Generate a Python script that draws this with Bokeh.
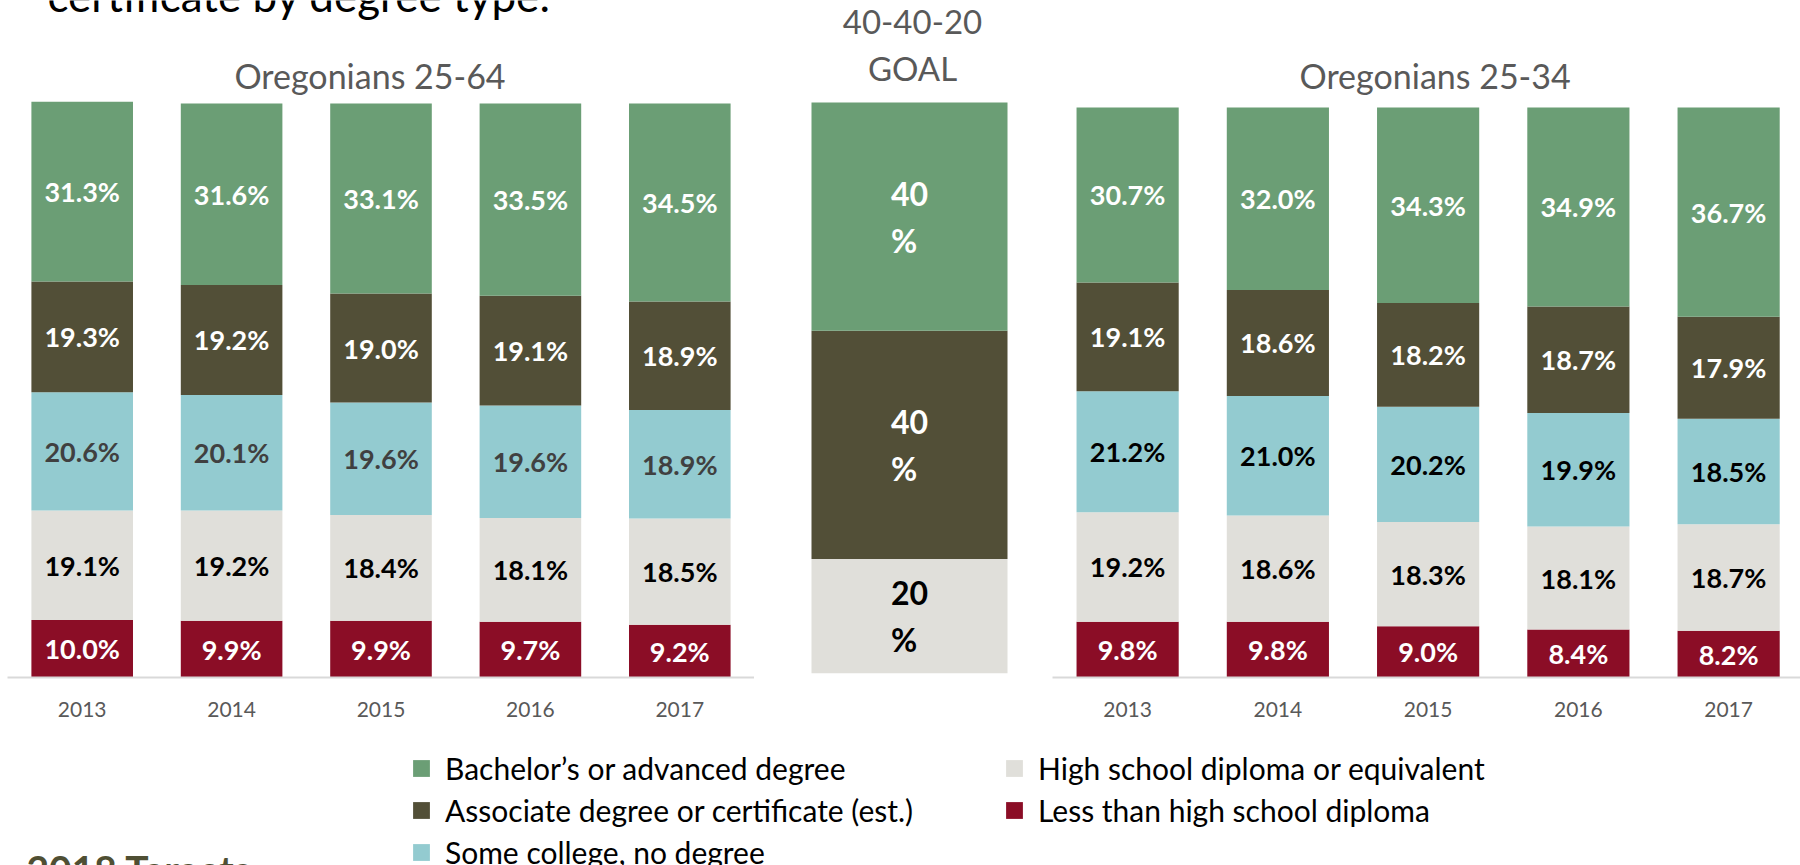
from bokeh.plotting import figure
from bokeh.models import (ColumnDataSource, LabelSet, Label, Range1d, FixedTicker,
                          Legend, LegendItem)
from bokeh.layouts import column, row
from bokeh.core.properties import value
from bokeh.embed import file_html
from bokeh.resources import INLINE

# ---------------- data ----------------
years = ["2013", "2014", "2015", "2016", "2017"]
categories = [
    "Bachelor’s or advanced degree",
    "Associate degree or certificate (est.)",
    "Some college, no degree",
    "High school diploma or equivalent",
    "Less than high school diploma",
]
colors = ["#6b9e75", "#524f37", "#93cbd0", "#e0dfda", "#8b0d26"]

age25_64_bachelor = [31.3, 31.6, 33.1, 33.5, 34.5]
age25_64_associate = [19.3, 19.2, 19.0, 19.1, 18.9]
age25_64_some_college = [20.6, 20.1, 19.6, 19.6, 18.9]
age25_64_high_school = [19.1, 19.2, 18.4, 18.1, 18.5]
age25_64_less_than_hs = [10.0, 9.9, 9.9, 9.7, 9.2]

age25_34_bachelor = [30.7, 32.0, 34.3, 34.9, 36.7]
age25_34_associate = [19.1, 18.6, 18.2, 18.7, 17.9]
age25_34_some_college = [21.2, 21.0, 20.2, 19.9, 18.5]
age25_34_high_school = [19.2, 18.6, 18.3, 18.1, 18.7]
age25_34_less_than_hs = [9.8, 9.8, 9.0, 8.4, 8.2]

goal_bachelor = [40]
goal_associate = [40]
goal_some_college = [0]
goal_high_school = [20]
goal_less_than_hs = [0]

left_title = "Oregonians 25-64"
right_title = "Oregonians 25-34"
goal_title = "40-40-20\nGOAL"
header_text = "certificate by degree type:"
footer_text = "2018 Targets"

# ---------------- styling / layout ----------------
FONT = "Lato"
KEYS = ["bach", "assoc", "some", "hs", "less"]
TOP_H = 740
BOT_BORDER = 63
FRAME_H = TOP_H - BOT_BORDER
BOTTOM_H = 125
TITLE_GREY = "#595959"

LEFT_PAD = 7
LEFT_W, MID_W, RIGHT_W = 754, 298, 748
LEFT_PX_PER_PCT = 5.74
RIGHT_PX_PER_PCT = 5.70
MID_PX_PER_PCT = 5.707
MID_LIFT_PX = 4.3
RIGHT_BAND_PX = 150.25


def make_data(lists):
    data = {"x": list(range(len(lists[0])))}
    for k, v in zip(KEYS, lists):
        data[k] = list(v)
    return data


def base_fig(width, x_range, y_range, show_x=True, left_border=0):
    p = figure(width=width, height=TOP_H, x_range=x_range, y_range=y_range,
               output_backend="svg", toolbar_location=None, tools="",
               min_border_left=left_border, min_border_right=0, min_border_top=0,
               min_border_bottom=BOT_BORDER,
               x_axis_location="below" if show_x else None, y_axis_location=None)
    p.outline_line_color = None
    p.grid.visible = False
    p.background_fill_color = "white"
    p.border_fill_color = "white"
    return p


def style_xaxis(p, labels):
    ax = p.xaxis[0]
    ax.ticker = FixedTicker(ticks=list(range(len(labels))))
    ax.major_label_overrides = {i: lab for i, lab in enumerate(labels)}
    ax.major_tick_line_color = None
    ax.minor_tick_line_color = None
    ax.axis_line_color = "#d9d9d9"
    ax.axis_line_width = 2
    ax.major_label_text_font = FONT
    ax.major_label_text_font_size = "21px"
    ax.major_label_text_color = TITLE_GREY
    ax.major_label_standoff = 18


def add_stack(p, data, width):
    p.vbar_stack(stackers=list(reversed(KEYS)), x="x", width=width,
                 fill_color=list(reversed(colors)), line_color=None,
                 source=ColumnDataSource(data))


def add_labels(p, data, text_colors, fmt, font_size, line_height=1.2):
    cum = [0.0] * len(data["x"])
    for k in reversed(KEYS):
        vals = data[k]
        xs, ys, txt = [], [], []
        for i, v in enumerate(vals):
            if v > 0:
                xs.append(data["x"][i])
                ys.append(cum[i] + v / 2.0)
                txt.append(fmt(v))
        cum = [c + v for c, v in zip(cum, vals)]
        src = ColumnDataSource(dict(x=xs, y=ys, t=txt))
        p.add_layout(LabelSet(x="x", y="y", text="t", source=src,
                              text_align="center", text_baseline="middle",
                              text_font=value(FONT), text_font_style="bold",
                              text_font_size=font_size, text_color=text_colors[k],
                              text_line_height=line_height))


def pct1(v):
    return f"{v:.1f}%"


def pct_goal(v):
    return f"{v:.0f}\n%"


# ---------------- left panel ----------------
left_data = make_data([age25_64_bachelor, age25_64_associate, age25_64_some_college,
                       age25_64_high_school, age25_64_less_than_hs])
pl = base_fig(LEFT_W, Range1d(-0.5, 4.5), Range1d(0, FRAME_H / LEFT_PX_PER_PCT),
              left_border=LEFT_PAD)
style_xaxis(pl, years)
add_stack(pl, left_data, 0.68)
add_labels(pl, left_data,
           {"bach": "white", "assoc": "white", "some": "#404040", "hs": "black", "less": "white"},
           pct1, "27px")
pl.add_layout(Label(x=2, y=FRAME_H - 75, x_units="data", y_units="screen", x_offset=-11,
                    text=left_title, text_align="center", text_baseline="middle",
                    text_font=FONT, text_font_size="34px", text_color=TITLE_GREY))
pl.add_layout(Label(x=40, y=FRAME_H + 5.5, x_units="screen", y_units="screen",
                    text=header_text, text_align="left", text_baseline="alphabetic",
                    text_font=FONT, text_font_size="44px", text_color="black"))

# ---------------- goal panel ----------------
goal_data = make_data([goal_bachelor, goal_associate, goal_some_college,
                       goal_high_school, goal_less_than_hs])
mid_bar_w = 196.0
mid_left_px = 155.0
pm = base_fig(MID_W,
              Range1d(-mid_left_px / mid_bar_w, (MID_W - mid_left_px) / mid_bar_w),
              Range1d(-MID_LIFT_PX / MID_PX_PER_PCT, (FRAME_H - MID_LIFT_PX) / MID_PX_PER_PCT),
              show_x=False)
add_stack(pm, goal_data, 1.0)
add_labels(pm, goal_data,
           {"bach": "white", "assoc": "white", "some": "black", "hs": "black", "less": "white"},
           pct_goal, "32px", line_height=1.2)
pm.add_layout(Label(x=0, y=FRAME_H - 44, x_units="data", y_units="screen", x_offset=3,
                    text=goal_title, text_align="center", text_baseline="middle",
                    text_font=FONT, text_font_size="33px", text_color=TITLE_GREY,
                    text_line_height=1.16))

# ---------------- right panel ----------------
right_data = make_data([age25_34_bachelor, age25_34_associate, age25_34_some_college,
                        age25_34_high_school, age25_34_less_than_hs])
pr = base_fig(RIGHT_W, Range1d(-0.5, -0.5 + RIGHT_W / RIGHT_BAND_PX),
              Range1d(0, FRAME_H / RIGHT_PX_PER_PCT))
style_xaxis(pr, years)
add_stack(pr, right_data, 0.68)
add_labels(pr, right_data,
           {"bach": "white", "assoc": "white", "some": "black", "hs": "black", "less": "white"},
           pct1, "27px")
pr.add_layout(Label(x=2, y=FRAME_H - 75, x_units="data", y_units="screen", x_offset=7,
                    text=right_title, text_align="center", text_baseline="middle",
                    text_font=FONT, text_font_size="34px", text_color=TITLE_GREY))

# ---------------- legend strip ----------------
pb = figure(width=LEFT_W + MID_W + RIGHT_W, height=BOTTOM_H, x_range=Range1d(0, 1),
            y_range=Range1d(0, 1), output_backend="svg", toolbar_location=None, tools="",
            min_border_left=0, min_border_right=0, min_border_top=0, min_border_bottom=0,
            x_axis_location=None, y_axis_location=None)
pb.outline_line_color = None
pb.grid.visible = False
pb.border_fill_color = "white"

items = []
for name, c in zip(categories, colors):
    # legend swatch renderer: its only point lies outside the visible range
    r = pb.scatter(x=[-10], y=[-10], marker="square", fill_color=c, line_color=None)
    items.append(LegendItem(label=name, renderers=[r]))

legend_style = dict(glyph_width=42, glyph_height=42, label_height=42, label_standoff=3,
                    spacing=0, padding=0, margin=0, border_line_color=None,
                    background_fill_alpha=0, label_text_font=FONT,
                    label_text_font_size="30px", label_text_color="black")
pb.add_layout(Legend(items=items[:3], location=(400, -8), **legend_style))
pb.add_layout(Legend(items=items[3:], location=(993, 34), **legend_style))
pb.add_layout(Label(x=26, y=20, x_units="screen", y_units="screen", text=footer_text,
                    text_align="left", text_baseline="top", text_font=FONT,
                    text_font_style="bold", text_font_size="39px", text_color="#4f4f33"))

layout = column(row(pl, pm, pr), pb)
open("out.html", "w").write(file_html(layout, INLINE))
